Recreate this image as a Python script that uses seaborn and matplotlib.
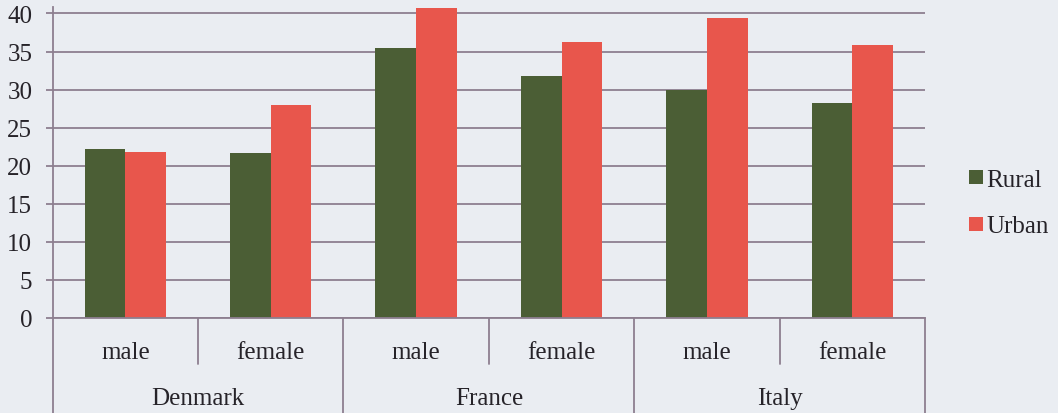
import matplotlib
matplotlib.use("Agg")
import matplotlib.pyplot as plt
import matplotlib.transforms as mtransforms
from matplotlib.lines import Line2D
import seaborn as sns
import pandas as pd

# Survey shares (%) by country, sex and area of residence
countries = ["Denmark", "France", "Italy"]
sexes = ["male", "female"]
areas = ["Rural", "Urban"]
rural = [22.2, 21.7, 35.4, 31.8, 30.0, 28.2]
urban = [21.8, 28.0, 40.7, 36.3, 39.4, 35.8]
y_ticks = [0, 5, 10, 15, 20, 25, 30, 35, 40]

slots = [f"{c}|{s}" for c in countries for s in sexes]
df = pd.DataFrame({
    "slot": slots * 2,
    "area": ["Rural"] * len(slots) + ["Urban"] * len(slots),
    "value": rural + urban,
})

BG = "#eaedf2"
GRID = "#8d7f90"
TXT = "#262329"
palette = {"Rural": "#4b5e35", "Urban": "#e8564c"}

sns.set_theme(style="white")
plt.rcParams["font.family"] = ["Liberation Serif", "DejaVu Serif"]

W, H = 1058, 414
fig = plt.figure(figsize=(W / 100, H / 100), dpi=100, facecolor=BG)
ax = fig.add_axes([52.7 / W, 95 / H, (925 - 52.7) / W, (319 - 8) / H])
ax.set_facecolor(BG)

sns.barplot(data=df, x="slot", y="value", hue="area", order=slots,
            hue_order=areas, palette=palette, width=0.56, linewidth=0,
            saturation=1, ax=ax, legend=False)

ax.set_xlim(-0.5, len(slots) - 0.5)
ax.set_ylim(0, 40.85)
ax.set_yticks(y_ticks)
ax.set_yticklabels([str(t) for t in y_ticks])
ax.yaxis.grid(True, color=GRID, linewidth=1.3)
ax.set_axisbelow(True)
ax.tick_params(axis="y", length=4.7, width=1.3, color=GRID, direction="out",
               pad=10, labelsize=18, labelcolor=TXT, left=True)
ax.tick_params(axis="x", length=0, labelbottom=False)
ax.set_xlabel("")
ax.set_ylabel("")
for side in ["top", "right"]:
    ax.spines[side].set_visible(False)
for side in ["left", "bottom"]:
    ax.spines[side].set_color(GRID)
    ax.spines[side].set_linewidth(1.3)

# Two-level category axis: sex labels, country labels, and separators
tr = mtransforms.blended_transform_factory(ax.transData, fig.transFigure)
y_axis = 95 / H
for i, s in enumerate(slots):
    ax.text(i, (H - 359) / H, s.split("|")[1], transform=tr, ha="center",
            va="baseline", fontsize=18, color=TXT)
for k, c in enumerate(countries):
    ax.text(2 * k + 0.5, (H - 405) / H, c, transform=tr, ha="center",
            va="baseline", fontsize=18, color=TXT)
for k in range(len(countries) + 1):
    x = 2 * k - 0.5
    ax.add_line(Line2D([x, x], [y_axis, 0], transform=tr, color=GRID,
                       linewidth=1.3, clip_on=False))
for k in range(len(countries)):
    x = 2 * k + 0.5
    ax.add_line(Line2D([x, x], [y_axis, (H - 365) / H], transform=tr,
                       color=GRID, linewidth=1.3, clip_on=False))

handles = [Line2D([], [], marker="s", linestyle="none", markersize=10,
                  markerfacecolor=palette[a], markeredgewidth=0) for a in areas]
fig.legend(handles, areas, loc="center left",
           bbox_to_anchor=(958 / W, (H - 204) / H), frameon=False,
           fontsize=18, handlelength=0.6, handletextpad=0.12,
           labelspacing=0.95, borderaxespad=0, labelcolor=TXT)

fig.savefig("out.png", dpi=100, facecolor=BG)
